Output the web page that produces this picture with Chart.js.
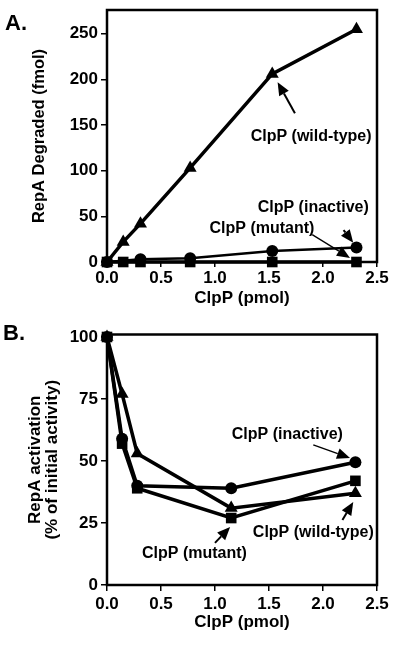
<!DOCTYPE html>
<html>
<head>
<meta charset="utf-8">
<script src="https://cdn.jsdelivr.net/npm/chart.js@4"></script>
<style>
body { margin: 0; background: #fff; }
canvas { position: absolute; left: 0; }
</style>
</head>
<body>
<canvas id="chartA" width="400" height="320" style="top:0"></canvas>
<canvas id="chartB" width="400" height="327" style="top:320px"></canvas>
<script>
// shared x axis (ClpP, pmol)
var xTicks = [0, 0.5, 1.0, 1.5, 2.0, 2.5];

// A. RepA degraded (fmol)
var aTicksY = [0, 50, 100, 150, 200, 250];
var aWildX = [0, 0.15, 0.31, 0.77, 1.53, 2.31];
var aWildY = [0, 22, 42, 103, 206, 255];
var aInactX = [0, 0.31, 0.77, 1.53, 2.31];
var aInactY = [0, 3, 4, 12, 16];
var aMutX = [0, 0.15, 0.31, 0.77, 1.53, 2.31];
var aMutY = [0, 0, 0, 0, 0, 0];

// B. RepA activation (% of initial activity)
var bTicksY = [0, 25, 50, 75, 100];
var bX = [0, 0.14, 0.28, 1.15, 2.3];
var bWildY = [100, 77, 53, 31, 37];
var bInactY = [100, 59, 40, 39, 49.5];
var bMutY = [100, 57, 39, 27, 42];

// labels with arrows, in data units
var aNotes = [
	{ text: 'ClpP (wild-type)', x: 1.89, y: 137, from: [1.74, 163], to: [1.58, 197], w: 2 },
	{ text: 'ClpP (inactive)', x: 1.91, y: 60, from: [2.19, 35], to: [2.28, 21], w: 2 },
	{ text: 'ClpP (mutant)', x: 1.435, y: 37, from: [1.9, 30], to: [2.25, 4.4], w: 1.3 }
];
var bNotes = [
	{ text: 'ClpP (inactive)', x: 1.67, y: 60.7, from: [1.91, 56.5], to: [2.25, 51.2], w: 1.5 },
	{ text: 'ClpP (wild-type)', x: 1.91, y: 21.2, from: [2.18, 26.2], to: [2.28, 33.5], w: 2 },
	{ text: 'ClpP (mutant)', x: 0.81, y: 12.5, from: [1.0, 17], to: [1.14, 23.4], w: 2 }
];

var FONT = '"Liberation Sans", Arial, Helvetica, sans-serif';

function pts(xs, ys) {
	return xs.map(function(x, i) { return { x: x, y: ys[i] }; });
}

function series(data, style, lw) {
	var r = style == 'circle' ? 6 : 7.5;
	return {
		data: data,
		borderColor: '#000',
		backgroundColor: '#000',
		borderWidth: lw,
		pointStyle: style,
		pointRadius: r,
		pointBorderWidth: 0,
		tension: 0,
		clip: false
	};
}

var framePlugin = {
	id: 'frame',
	afterDatasetsDraw: function(chart, args, opts) {
		var ctx = chart.ctx, a = chart.chartArea;
		var sx = chart.scales.x, sy = chart.scales.y;
		ctx.save();
		ctx.strokeStyle = '#000';
		ctx.fillStyle = '#000';
		ctx.lineWidth = 2.5;
		ctx.strokeRect(a.left, a.top, a.right - a.left, a.bottom - a.top);

		ctx.font = 'bold 22px ' + FONT;
		ctx.textAlign = 'left';
		ctx.textBaseline = 'alphabetic';
		ctx.fillText(opts.letter, opts.letterX, opts.letterY);

		ctx.font = 'bold 16px ' + FONT;
		ctx.textAlign = 'center';
		ctx.textBaseline = 'middle';
		opts.notes.forEach(function(n) {
			ctx.fillText(n.text, sx.getPixelForValue(n.x), sy.getPixelForValue(n.y));
			var x0 = sx.getPixelForValue(n.from[0]), y0 = sy.getPixelForValue(n.from[1]);
			var x1 = sx.getPixelForValue(n.to[0]), y1 = sy.getPixelForValue(n.to[1]);
			var ang = Math.atan2(y1 - y0, x1 - x0);
			var len = 13, half = 5.5;
			var bx = x1 - len * Math.cos(ang), by = y1 - len * Math.sin(ang);
			ctx.lineWidth = n.w;
			ctx.beginPath();
			ctx.moveTo(x0, y0);
			ctx.lineTo(bx, by);
			ctx.stroke();
			ctx.beginPath();
			ctx.moveTo(x1, y1);
			ctx.lineTo(bx + half * Math.sin(ang), by - half * Math.cos(ang));
			ctx.lineTo(bx - half * Math.sin(ang), by + half * Math.cos(ang));
			ctx.closePath();
			ctx.fill();
		});
		ctx.restore();
	}
};

function makeChart(id, datasets, cfg) {
	return new Chart(document.getElementById(id), {
		type: 'line',
		data: { datasets: datasets },
		plugins: [framePlugin],
		options: {
			responsive: false,
			animation: false,
			events: [],
			layout: { padding: { top: cfg.top, right: 23, left: 0, bottom: 0 } },
			plugins: {
				legend: { display: false },
				tooltip: { enabled: false },
				frame: { letter: cfg.letter, letterX: cfg.letterX, letterY: cfg.letterY, notes: cfg.notes }
			},
			scales: {
				x: {
					type: 'linear',
					min: 0,
					max: 2.5,
					afterBuildTicks: function(s) { s.ticks = xTicks.map(function(v) { return { value: v }; }); },
					afterFit: function(s) { s.height = cfg.xHeight; s.paddingLeft = 0; s.paddingRight = 0; },
					grid: { drawOnChartArea: false, color: '#000', lineWidth: 1.5, tickLength: cfg.xTick },
					border: { display: false },
					ticks: {
						color: '#000',
						padding: cfg.xPad,
						maxRotation: 0,
						font: { family: FONT, size: 17, weight: 'bold' },
						callback: function(v) { return v.toFixed(1); }
					},
					title: {
						display: true,
						text: 'ClpP (pmol)',
						color: '#000',
						font: { family: FONT, size: 17, weight: 'bold', lineHeight: 1.2 },
						padding: { top: 0, bottom: cfg.xTitlePad }
					}
				},
				y: {
					min: 0,
					max: cfg.yMax,
					afterBuildTicks: function(s) { s.ticks = cfg.yTicks.map(function(v) { return { value: v }; }); },
					afterFit: function(s) { s.width = 107; s.paddingTop = 0; s.paddingBottom = 0; },
					grid: { drawOnChartArea: false, color: '#000', lineWidth: 1.5, tickLength: 6 },
					border: { display: false },
					ticks: {
						color: '#000',
						padding: 3,
						font: { family: FONT, size: 17, weight: 'bold' }
					},
					title: {
						display: true,
						text: cfg.yTitle,
						color: '#000',
						font: { family: FONT, size: cfg.yTitleSize, weight: 'bold', lineHeight: 1.05 },
						padding: { top: cfg.yTitlePad, bottom: 0 }
					}
				}
			}
		}
	});
}

makeChart('chartA', [
	series(pts(aWildX, aWildY), 'triangle', 3.5),
	series(pts(aInactX, aInactY), 'circle', 2.5),
	series(pts(aMutX, aMutY), 'rect', 3.5)
], {
	letter: 'A.', letterX: 5, letterY: 30, notes: aNotes,
	top: 10, yMax: 276, yTicks: aTicksY,
	xHeight: 58, xTick: 5, xPad: 1, xTitlePad: 11,
	yTitle: 'RepA Degraded (fmol)', yTitleSize: 16.5, yTitlePad: 31
});

makeChart('chartB', [
	series(pts(bX, bWildY), 'triangle', 3.5),
	series(pts(bX, bInactY), 'circle', 3.5),
	series(pts(bX, bMutY), 'rect', 3.5)
], {
	letter: 'B.', letterX: 3, letterY: 20, notes: bNotes,
	top: 14.5, yMax: 101, yTicks: bTicksY,
	xHeight: 62, xTick: 6, xPad: 3, xTitlePad: 14,
	yTitle: ['RepA activation', '(% of initial activity)'], yTitleSize: 17, yTitlePad: 26
});
</script>
</body>
</html>
